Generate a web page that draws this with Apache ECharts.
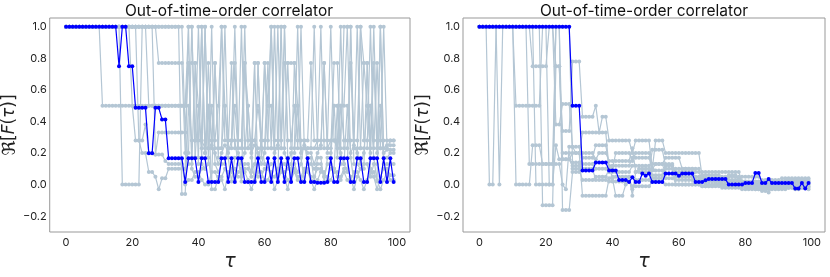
<!DOCTYPE html>
<html>
<head>
<meta charset="utf-8">
<script src="https://cdn.jsdelivr.net/npm/echarts@6/dist/echarts.min.js"></script>
<style>html,body{margin:0;padding:0;background:#fff}#c{width:830px;height:277px}</style>
</head>
<body>
<div id="c"></div>
<script>
// time steps
const tau = Array.from({length: 100}, (_, i) => i);
const xTicks = [0, 20, 40, 60, 80, 100];
const yTicks = [-0.2, 0, 0.2, 0.4, 0.6, 0.8, 1.0];
const titleText = 'Out-of-time-order correlator';

// ---------- left panel ----------
const leftBlue = [
1,1,1,1,1,1,1,1,1,1,
1,1,1,1,1,1,0.75,1,1,0.75,
0.75,0.486,0.486,0.486,0.486,0.198,0.198,0.486,0.486,0.413,
0.413,0.167,0.167,0.167,0.167,0.167,0.016,0.167,0.167,0.167,
0.016,0.167,0.167,0.016,0.016,0.016,0.016,0.167,0.167,0.016,
0.167,0.016,0.167,0.167,0.016,0.016,0.016,0.016,0.167,0.016,
0.016,0.167,0.016,0.167,0.016,0.167,0.016,0.167,0.016,0.167,
0.167,0.016,0.016,0.167,0.016,0.016,0.012,0.012,0.012,0.016,
0.167,0.016,0.016,0.167,0.167,0.167,0.016,0.016,0.167,0.167,
0.016,0.016,0.167,0.167,0.167,0.016,0.167,0.016,0.167,0.016];

const leftGray1 = [
1,1,1,1,1,1,1,1,1,1,
1,0.5,0.5,0.5,0.5,0.5,0.5,0.5,0.5,0.5,
0.5,0.5,0.5,0.5,0.5,0.5,0.5,0.5,0.5,0.5,
0.5,0.5,0.5,0.5,0.5,0.5,0.5,1,1,0.28,
0.28,1,0.2,0.5,0.28,0.28,0.5,1,0.28,0.28,
0.28,1,0.28,0.28,0.77,0.28,0.28,0.28,0.5,0.28,
0.28,0.28,1,0.28,0.28,0.28,1,0.28,0.28,0.5,
0.28,0.28,0.28,0.28,0.77,0.28,0.28,0.28,0.28,0.28,
1,0.28,0.28,0.5,0.28,0.28,0.28,0.28,0.28,1,
0.28,0.28,0.5,0.28,0.28,0.28,0.28,0.28,0.28,0.28];

const leftGray2 = [
1,1,1,1,1,1,1,1,1,1,
1,1,1,1,1,1,1,0,0,0,
0,0,0,1,1,1,1,1,1,1,
1,1,1,1,1,1,0.33,0.77,0.77,0.77,
0.5,0.23,1,0.23,0.23,0.77,0.23,0.23,0.5,0.23,
0.23,0.77,0.23,0.23,1,0.23,0.23,0.77,0.77,0.23,
0.77,0.23,0.23,0.23,1,0.23,0.77,0.77,0.77,0.77,
0.23,1,0.23,0.23,0.23,1,0.23,0.23,0.77,0.23,
0.23,0.77,0.77,0.23,1,1,1,0.23,0.23,0.23,
0.77,0.77,0.23,1,0.23,0.23,0.23,0.25,0.25,0.25];

const leftGray3 = [
1,1,1,1,1,1,1,1,1,1,
1,1,1,1,1,1,1,1,1,1,
1,1,1,1,1,1,1,1,0.77,0.77,
0.77,0.77,0.77,0.77,0.77,0.77,0.2,0.2,1,0.17,
0.17,1,0.2,0.77,0.25,0.2,0.13,0.2,0.25,0.2,
0.28,0.5,0.2,0.13,0.2,0.5,0.2,0.25,0.2,0.13,
0.2,0.5,0.5,0.2,0.25,1,0.2,0.13,0.2,0.2,
0.5,0.2,0.25,0.2,0.2,0.13,0.2,0.25,0.77,0.2,
0.2,0.5,0.5,0.2,0.13,0.5,0.2,0.25,0.2,0.13,
0.2,0.5,0.2,0.77,0.2,1,0.2,0.22,0.22,0.22];

const leftGray4 = [
1,1,1,1,1,1,1,1,1,1,
1,1,1,1,1,1,1,1,1,1,
0.5,0.28,0.28,0.28,0.38,0.2,0.2,0.19,0.33,0.33,
0.33,0.33,0.33,0.33,0.33,0.33,0.33,0.13,0.13,0.77,
0.13,0.13,0.1,0.13,1,0.13,0.08,0.13,0.13,0.28,
0.28,0.28,0.13,0.1,0.13,0.13,0.08,0.13,0.13,0.28,
0.13,0.1,0.13,0.13,0.05,0.13,0.13,0.1,0.13,0.13,
0.08,0.13,0.28,0.13,0.13,0.1,0.13,0.13,0.05,0.13,
0.13,0.1,0.5,0.13,0.13,0.08,1,0.13,0.13,0.1,
0.13,0.13,0.05,0.13,0.13,0.5,0.13,0.13,0.13,0.13];

const leftGray5 = [
1,1,1,1,1,1,1,1,1,1,
1,1,1,1,1,1,1,1,1,1,
1,1,0.28,0.2,0.2,0.08,0.08,0.05,-0.03,0.04,
0.04,0.1,0.1,0.1,0.1,0.1,0.1,1,0.1,0.05,
0.05,0.1,0.1,0.5,-0.03,-0.03,0.05,0.05,0.1,0.05,
0.1,0.1,0.05,0.05,0.1,0.1,0.05,0.77,0.05,0.05,
0.1,0.1,0.05,0.05,0.1,0.1,0.05,-0.03,0.1,0.1,
0.05,0.05,0.1,0.1,0.05,0.05,0.1,0.1,0.05,0.05,
0.1,0.1,0.05,0.05,0.1,0.1,0.05,-0.03,0.05,0.1,
0.1,0.77,0.1,0.05,-0.03,0.05,0.1,0.1,0.06,0.06];

const leftGray6 = [
1,1,1,1,1,1,1,1,1,1,
1,1,1,1,1,1,1,1,1,1,
1,1,1,1,1,0.5,0.5,0.5,0.5,0.5,
0.5,0.5,0.5,0.5,0.5,0.5,0.5,0.77,0.17,0.17,
0.5,0.17,1,0.17,0.02,0.77,0.17,1,0.5,0.17,
0.02,0.17,0.17,0.02,0.77,0.5,0.17,0.02,0.77,0.17,
0.77,0.5,1,0.17,0.02,1,1,0.17,0.02,0.77,
0.5,0.17,0.02,0.17,0.17,0.02,0.17,0.17,0.02,0.17,
0.17,0.5,0.17,0.5,0.5,1,0.17,0.02,0.17,1,
0.77,0.5,0.5,0.17,0.02,1,0.17,0.17,0.2,0.2];

const leftGray7 = [
1,1,1,1,1,1,1,1,1,1,
1,1,1,1,1,1,1,1,1,1,
1,1,1,1,1,1,1,0.19,0.19,0.19,
0.15,0.13,0.13,0.13,0.13,0.13,0,0.03,0.03,0.08,
0.08,0.03,0,0,0.08,0.08,0.03,0.03,-0.03,0.08,
0.08,0.03,0.08,0.08,0.08,0.03,-0.03,0.03,0.08,0.08,
0.03,0.03,0.08,-0.03,0.03,0.08,0.08,0.03,0.03,0.08,
0.03,0.03,0.08,0.08,0.03,-0.03,0.03,0.08,0.08,0.03,
0.03,0.08,0.08,0.03,0.08,0.03,0.03,0.08,0.08,0.03,
-0.03,0.03,0.08,0.08,0.03,-0.03,0.03,0.08,0.03,0.03];

const leftGray8 = [
1,1,1,1,1,1,1,1,1,1,
1,1,1,1,1,1,1,1,1,1,
1,1,1,1,1,1,1,1,1,1,
1,1,1,1,1,-0.06,-0.06,0.5,0.28,0.28,
1,0.28,0.23,0.23,0.5,0.23,0.23,0.23,1,0.23,
0.77,0.23,0.23,1,0.23,0.23,0.28,0.28,0.23,0.23,
0.23,0.77,0.23,1,0.23,0.23,0.23,0.77,0.23,0.23,
1,0.23,0.23,0.23,0.23,0.23,0.28,1,0.23,0.23,
0.28,0.28,0.23,1,0.23,0.23,0.77,0.23,1,0.23,
0.23,0.23,1,0.23,0.77,0.23,1,0.23,0.28,0.28];

// ---------- right panel ----------
const rightBlue = [
1,1,1,1,1,1,1,1,1,1,
1,1,1,1,1,1,1,1,1,1,
1,1,1,1,1,1,1,1,0.5,0.5,
0.5,0.09,0.09,0.09,0.09,0.14,0.14,0.14,0.14,0.09,
0.09,0.09,0.03,0.03,0.03,0.016,0.046,0.016,0.016,0.07,
0.056,0.07,0.016,0.016,0.016,0.016,0.07,0.07,0.07,0.07,
0.056,0.07,0.07,0.07,0.07,0.016,0.016,0.016,0.028,0.035,
0.035,0.035,0.035,0.035,0.035,0,0,0,0,0,
0.01,0.01,0.01,0.073,0.073,0.01,0.01,0.035,0.01,0.01,
0.01,0.01,0.01,0.01,0.01,-0.025,-0.025,0.01,-0.025,0.01];

const rightGray1 = [
1,1,1,0,0,1,1,1,1,1,
1,1,1,1,1,1,0.75,0.75,0.75,0.75,
0.75,1,1,0.75,0.75,0.34,0.34,0.34,0.78,0.78,
0.78,0.43,0.43,0.43,0.43,0.5,0.33,0.43,0.43,0.28,
0.28,0.28,0.28,0.28,0.28,0.28,0.2,0.28,0.28,0.28,
0.28,0.28,0.1,0.28,0.28,0.28,0.2,0.2,0.2,0.2,
0.2,0.2,0.2,0.2,0.2,0.2,0.2,0.05,0,0,
0,0,0,0,0,0.06,0.06,0.06,0.04,0.02,
0.02,-0.02,-0.02,-0.03,-0.03,-0.04,-0.04,-0.05,-0.02,-0.02,
0,0,-0.01,-0.01,0.02,0.02,0.02,0.02,0.01,0.01];

const rightGray2 = [
1,1,1,1,1,1,0,1,1,1,
1,0.5,0.5,0.5,0.5,0.5,0.5,0.5,0.5,1,
1,1,1,0.38,0.38,0.51,0.51,0.51,0.24,0.2,
0.2,0.33,0.33,0.33,0.33,0.33,0.33,0.33,0.33,0.1,
0.1,0.2,0.2,0.2,0.2,0.2,0.15,0.2,0.2,0.2,
0.2,0.2,0.13,0.13,0.13,0.13,0.17,0.17,0.17,0.17,
0.17,0.1,0.1,0.1,0.1,0.03,0.03,0.03,0.02,0.02,
0.02,0.02,0.02,0.05,0.05,0.05,0.05,0.05,0.05,0.02,
0,0,0,0,0,0,0,0,0,0,
0,-0.02,0.03,0.03,0.03,0.03,0.03,0.03,0.03,0.03];

const rightGray3 = [
1,1,1,1,1,1,1,1,1,1,
1,0,0,0,0,0,0.25,0.25,0.25,0.13,
0.13,0.13,0.13,1,1,0.16,0.16,0.16,0.2,0.2,
0.2,-0.07,-0.07,-0.07,-0.07,-0.07,-0.07,-0.07,-0.07,0.04,
0.04,-0.07,-0.07,-0.07,0,0.05,-0.03,0.03,0.03,0.03,
0.03,0.03,0.09,0.09,0.09,0.09,0.04,0.04,0.04,0.03,
0.03,0.03,0.03,0.03,0.03,0.03,0.03,-0.01,-0.01,-0.01,
-0.01,0,0,0,0,0,0,0,0,-0.01,
-0.01,-0.01,-0.01,-0.01,-0.01,-0.02,-0.02,-0.02,-0.02,-0.02,
-0.02,-0.03,-0.03,-0.02,-0.02,-0.03,-0.03,-0.02,-0.02,-0.03];

const rightGray4 = [
1,1,1,1,1,1,1,1,1,1,
1,1,1,1,1,1,1,0,0,0,
0,0,0,0.25,0.16,0.16,0.16,0.16,0.12,0.12,
0.12,0.17,0.17,0.17,0.17,0.25,0.25,0.25,0.25,0.12,
0.12,0.12,0.12,0.12,0.12,0.12,0.17,0.17,0.17,0.17,
0.17,0.17,0.1,0.13,0.13,0.13,0.07,0.07,0.07,0.1,
0.1,0.1,0.1,0.1,0.1,0.1,0.1,0.06,0.06,0.06,
0.06,0.06,0.06,0.02,0.02,0.02,0.02,0.02,0.02,0.05,
0.05,0.05,0.05,0.05,0.05,0.02,0.02,0.02,0.02,0.02,
0.02,-0.01,-0.01,-0.01,-0.01,-0.01,-0.01,-0.01,-0.01,-0.01];

const rightGray5 = [
1,1,1,1,1,1,1,1,1,1,
1,1,1,1,1,1,1,1,1,-0.13,
-0.13,-0.13,-0.13,0.75,0.75,0.2,0.2,0.2,0.1,0.1,
0.1,0.03,0.03,0.03,0.03,0.05,0.05,0.05,0.05,0.1,
0.05,0.05,0.05,0.05,0.05,0.05,-0.07,0.08,0.1,0.1,
0.1,0.1,0.04,0.04,0.04,0.04,0.13,0.13,0.13,0.05,
0.05,0.05,0.05,0.05,0.05,0.05,0.05,0.04,0.04,0.04,
0.04,0.04,0.04,-0.02,-0.02,-0.02,-0.02,-0.02,-0.02,-0.01,
-0.01,-0.01,-0.01,-0.01,-0.01,0.03,0.03,0.03,0.03,0.03,
0.03,0,0,0,0,0,0,0,0,0];

const rightGray6 = [
1,1,1,1,1,1,1,1,1,1,
1,1,1,1,1,1,1,1,1,1,
1,1,1,1,1,-0.16,-0.16,-0.16,0.08,0.08,
0.08,0.2,0.2,0.2,0.2,0.16,0.2,0.2,0.2,0.15,
0.15,0.15,0.15,0.15,0.15,0.15,0.23,0.08,0.08,0.08,
0.08,0.08,0.22,0.22,0.22,0.22,0.12,0.12,0.12,0.08,
0.08,0.08,0.08,0.08,0.08,0.08,0.08,0.03,0.03,0.03,
0.03,0.03,0.03,0.03,0.03,0.03,0.03,0.03,0.03,0,
0,0,0,0,0,-0.01,-0.01,-0.01,-0.01,-0.01,
-0.01,0.02,0.02,0.02,0.02,0.02,0.02,0.02,0.02,0.02];

const rightGray7 = [
1,1,1,1,1,1,1,1,1,1,
1,1,1,1,1,0.13,0.13,0.13,0.13,0.13,
0.13,0.13,0.13,0.13,0.13,0,-0.03,0.24,0.24,0.24,
0.24,0.13,0.13,0.13,0.13,0.1,0.1,0.1,0.1,0.08,
0.08,0.08,0.08,0.08,0.08,0.08,0.12,0.12,0.12,0.12,
0.12,0.12,0.06,0.06,0.06,0.06,0.1,0.1,0.1,0,
0,0,0,0,0,0,0,0.08,0.08,0.08,
0.08,0.08,0.08,0.08,0.08,0.08,0.08,0.08,0.08,0.02,
0.02,0.02,0.02,0.02,0.02,-0.03,-0.03,-0.03,-0.03,-0.03,
-0.03,0.04,0.04,0.04,0.04,0.04,0.04,0.04,0.04,0.04];

const rightGray8 = [
1,1,1,1,1,1,1,1,1,1,
1,1,1,1,1,1,1,1,1,1,
1,0,0,1,1,1,1,1,0.14,0.14,
0.14,0.1,0.1,0.1,0.1,0.03,0.03,0.03,0.03,0.02,
0.02,0.02,0.02,0.02,0.02,0.02,-0.01,-0.01,-0.01,-0.01,
-0.01,-0.01,0.02,0.02,0.02,0.02,0,0,0,0,
0,0,0,0,0,0,0,-0.01,-0.01,-0.01,
-0.01,-0.01,-0.01,-0.01,-0.01,-0.01,-0.01,-0.01,-0.01,-0.03,
-0.03,-0.03,-0.03,-0.03,-0.03,0.01,0.01,0.01,0.01,0.01,
0.01,-0.02,-0.02,-0.02,-0.02,-0.02,-0.02,-0.02,-0.02,-0.02];

const leftGrays = [leftGray1, leftGray2, leftGray3, leftGray4, leftGray5, leftGray6, leftGray7, leftGray8];
const rightGrays = [rightGray1, rightGray2, rightGray3, rightGray4, rightGray5, rightGray6, rightGray7, rightGray8];

const GRAY = '#b4c6d4';
const BLUE = '#0000ff';
const FONT = 'Inter';

function mk(vals, color, gi, z, w) {
  return {
    type: 'line', xAxisIndex: gi, yAxisIndex: gi,
    data: tau.map((t, i) => [t, vals[i]]),
    symbol: 'circle', symbolSize: 4, showAllSymbol: true,
    lineStyle: {width: w, color: color},
    itemStyle: {color: color},
    z: z, animation: false, silent: true,
    emphasis: {disabled: true}
  };
}

const grids = [
  {left: 48, top: 18, width: 362, height: 224},
  {left: 463, top: 18, width: 362, height: 224}
];

function xAx(gi) {
  return {
    type: 'value', gridIndex: gi, min: -4.95, max: 103.95,
    axisLine: {show: false}, axisTick: {show: false}, splitLine: {show: false},
    axisLabel: {customValues: xTicks, fontSize: 11, color: '#222', margin: 5, fontFamily: FONT},
    name: 'τ', nameLocation: 'middle', nameGap: 21,
    nameTextStyle: {fontSize: 19, color: '#222', fontStyle: 'italic', fontFamily: 'DejaVu Sans'}
  };
}
function yAx(gi) {
  return {
    type: 'value', gridIndex: gi, min: -0.3, max: 1.055,
    axisLine: {show: false}, axisTick: {show: false}, splitLine: {show: false},
    axisLabel: {customValues: yTicks, fontSize: 11, color: '#222', margin: 3, fontFamily: FONT,
      formatter: v => (v < 0 ? '\u2212' : '') + Math.abs(v).toFixed(1)},
    name: '{r|ℜ}{n|[}{i|F}{n|(}{i|τ}{n|)]}', nameLocation: 'middle', nameGap: 28,
    nameTextStyle: {
      color: '#222', fontSize: 16,
      rich: {
        r: {fontSize: 18, fontFamily: 'DejaVu Sans', color: '#222'},
        n: {fontSize: 17, fontFamily: 'DejaVu Sans', color: '#222'},
        i: {fontSize: 17, fontFamily: 'DejaVu Sans', fontStyle: 'italic', color: '#222'}
      }
    }
  };
}

const series = [];
leftGrays.forEach(g => series.push(mk(g, GRAY, 0, 2, 1.2)));
series.push(mk(leftBlue, BLUE, 0, 5, 1.2));
rightGrays.forEach(g => series.push(mk(g, GRAY, 1, 2, 1.2)));
series.push(mk(rightBlue, BLUE, 1, 5, 1.2));

const option = {
  backgroundColor: '#fff',
  animation: false,
  title: [
    {text: titleText, left: 229, top: 3, textAlign: 'center', padding: 0,
     textStyle: {fontSize: 15.5, fontWeight: 'normal', color: '#111', fontFamily: FONT}},
    {text: titleText, left: 644, top: 3, textAlign: 'center', padding: 0,
     textStyle: {fontSize: 15.5, fontWeight: 'normal', color: '#111', fontFamily: FONT}}
  ],
  grid: grids.map(g => Object.assign({show: true, borderColor: '#999', borderWidth: 1, backgroundColor: 'transparent'}, g)),
  xAxis: [xAx(0), xAx(1)],
  yAxis: [yAx(0), yAx(1)],
  series: series
};

const chart = echarts.init(document.getElementById('c'), null, {renderer: 'canvas'});
chart.setOption(option);
</script>
</body>
</html>
